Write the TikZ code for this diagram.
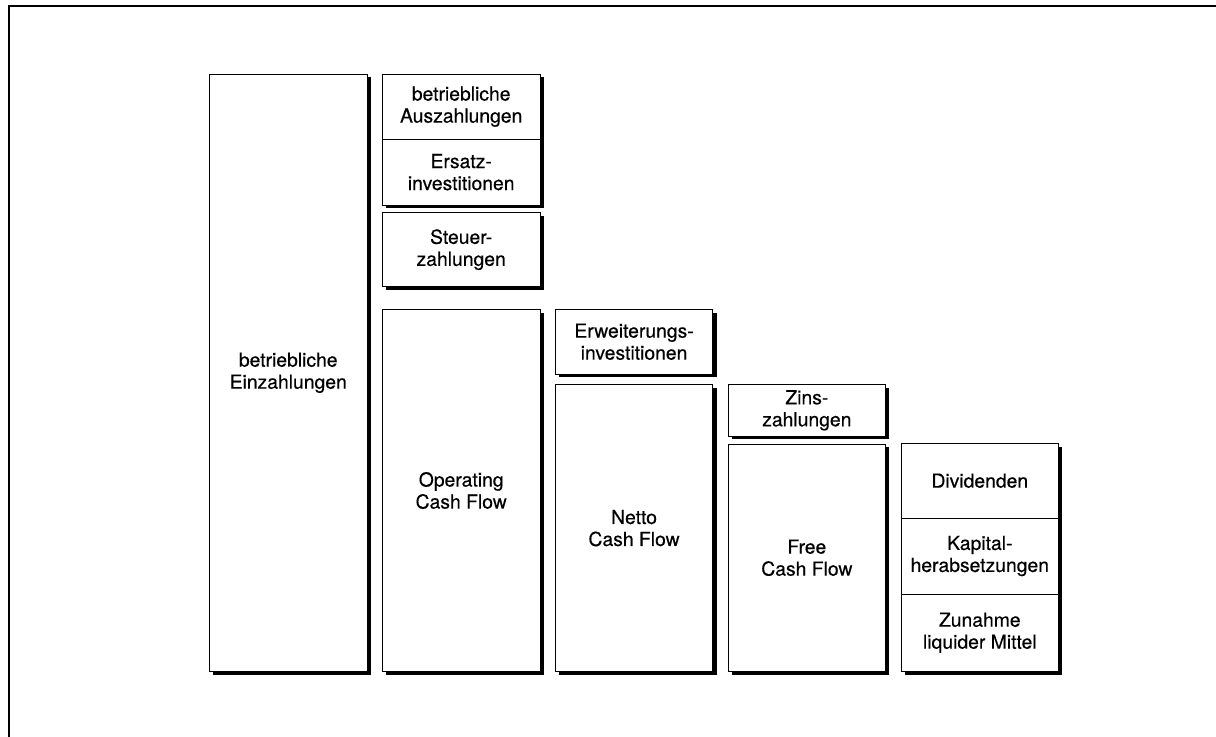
\documentclass[tikz,border=0pt]{standalone}
\usepackage{fontspec}
\newfontfamily\cffont[FakeBold=0.4]{TeX Gyre Heros}
\usetikzlibrary{shadows,fit}

\tikzset{
  cfbox/.style={draw=black, line width=0.7pt, fill=white, inner sep=0pt,
    drop shadow={shadow xshift=2.8pt, shadow yshift=-2.6pt, opacity=1, fill=black}},
  cftext/.style={align=center, inner sep=0pt,
    font=\cffont\fontsize{14.5}{16.5}\selectfont},
  frameline/.style={line width=1.5pt, line cap=rect}
}

\begin{document}
\begin{tikzpicture}[x=0.75pt, y=-0.75pt]
  \useasboundingbox (0,0) rectangle (1216,737);

  % outer frame (top and left edges)
  \draw[frameline] (8.5,737) -- (8.5,6.5) -- (1216,6.5);

  % corner points of the bars
  \coordinate (e1) at (209.5,74);    \coordinate (e2) at (367,671.5);
  \coordinate (a1) at (382.4,74);    \coordinate (a2) at (540,139.3);
  \coordinate (r1) at (382.4,139.3); \coordinate (r2) at (540,205);
  \coordinate (s1) at (382.4,212.7); \coordinate (s2) at (540,286.7);
  \coordinate (o1) at (382.4,309.5); \coordinate (o2) at (540,671.5);
  \coordinate (w1) at (555.3,309.5); \coordinate (w2) at (712.8,374);
  \coordinate (n1) at (555.3,384.7); \coordinate (n2) at (712.8,671.5);
  \coordinate (z1) at (728.2,384.7); \coordinate (z2) at (885.5,436);
  \coordinate (f1) at (728.2,444);   \coordinate (f2) at (885.5,671.5);
  \coordinate (d1) at (901.1,443.5); \coordinate (d2) at (1058.5,518);
  \coordinate (k1) at (901.1,518);   \coordinate (k2) at (1058.5,594);
  \coordinate (l1) at (901.1,594);   \coordinate (l2) at (1058.5,671.5);

  % column 1
  \node[cfbox, fit=(e1)(e2), label={[cftext]center:{betriebliche\\Einzahlungen}}] (einz) {};

  % column 2
  \node[cfbox, fit=(a1)(a2), label={[cftext]center:{betriebliche\\Auszahlungen}}] (ausz) {};
  \node[cfbox, fit=(r1)(r2), label={[cftext]center:{Ersatz-\\investitionen}}] (ersatz) {};
  \node[cfbox, fit=(s1)(s2), label={[cftext]center:{Steuer-\\zahlungen}}] (steuer) {};
  \node[cfbox, fit=(o1)(o2), label={[cftext]center:{Operating\\Cash Flow}}] (ocf) {};

  % column 3
  \node[cfbox, fit=(w1)(w2), label={[cftext]center:{Erweiterungs-\\investitionen}}] (erw) {};
  \node[cfbox, fit=(n1)(n2), label={[cftext]center:{Netto\\Cash Flow}}] (ncf) {};

  % column 4
  \node[cfbox, fit=(z1)(z2), label={[cftext]center:{Zins-\\zahlungen}}] (zins) {};
  \node[cfbox, fit=(f1)(f2), label={[cftext]center:{Free\\Cash Flow}}] (fcf) {};

  % column 5
  \node[cfbox, fit=(d1)(d2), label={[cftext]center:{Dividenden}}] (div) {};
  \node[cfbox, fit=(k1)(k2), label={[cftext]center:{Kapital-\\herabsetzungen}}] (kap) {};
  \node[cfbox, fit=(l1)(l2), label={[cftext]center:{Zunahme\\liquider Mittel}}] (liq) {};
\end{tikzpicture}
\end{document}
